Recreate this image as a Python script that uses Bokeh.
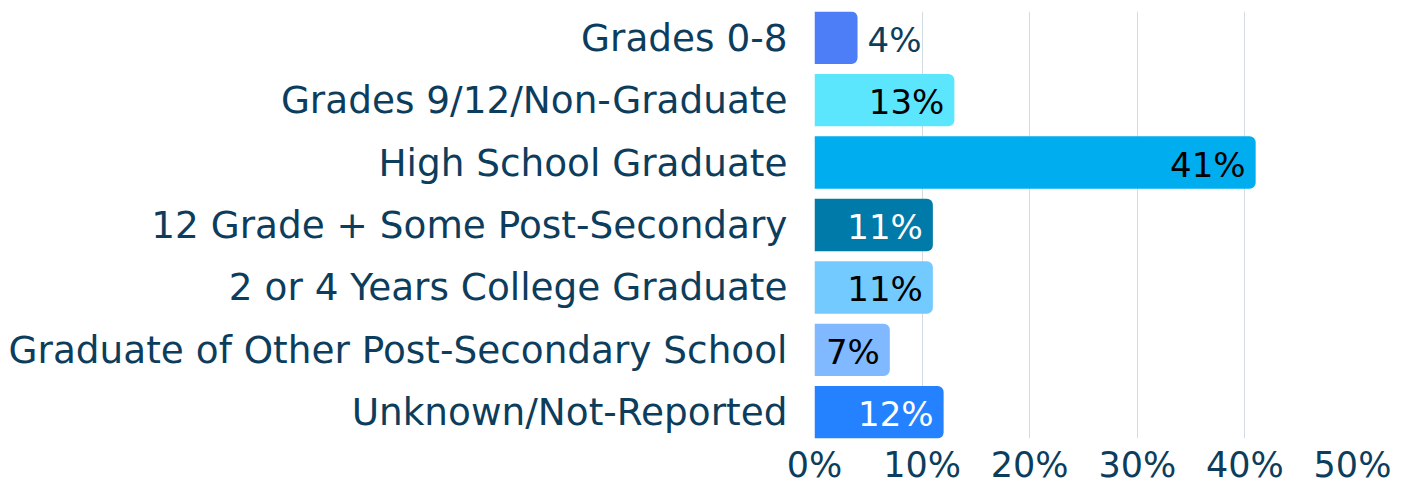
from bokeh.plotting import figure
from bokeh.models import Range1d, FixedTicker, ColumnDataSource
from bokeh.core.properties import value
from bokeh.embed import file_html
from bokeh.resources import INLINE

categories = [
    "Grades 0-8",
    "Grades 9/12/Non-Graduate",
    "High School Graduate",
    "12 Grade + Some Post-Secondary",
    "2 or 4 Years College Graduate",
    "Graduate of Other Post-Secondary School",
    "Unknown/Not-Reported",
]
values = [4, 13, 41, 11, 11, 7, 12]
bar_colors = ["#4d7ef7", "#5ce6fe", "#00aeef", "#007aa8", "#72caff", "#80b9ff", "#2481ff"]
label_colors = ["#0d3d5c", "#000000", "#000000", "#ffffff", "#000000", "#000000", "#ffffff"]
x_ticks = [0, 10, 20, 30, 40, 50]
x_tick_labels = ["0%", "10%", "20%", "30%", "40%", "50%"]

FONT = "DejaVu Sans"
NAVY = "#0d3d5c"

n = len(categories)
ypos = [n - 1 - i for i in range(n)]

src = ColumnDataSource(dict(
    y=ypos,
    v=values,
    color=bar_colors,
    lcolor=label_colors,
    text=[f"{v}%" for v in values],
    align=["left" if v < 5 else "right" for v in values],
    xoff=[10 if v < 5 else -10 for v in values],
))

p = figure(
    width=1400, height=487,
    x_range=Range1d(0, 50), y_range=Range1d(-0.42, n - 1 + 0.42),
    output_backend="svg", toolbar_location=None,
    min_border_left=814, min_border_right=48, min_border_top=11, min_border_bottom=0,
)
p.outline_line_color = None
p.background_fill_color = "white"
p.border_fill_color = "white"

p.hbar(y="y", right="v", left=0, height=0.84, fill_color="color", line_color=None,
       border_radius=(0, 6, 6, 0), source=src)

p.text(x="v", y="y", text="text", text_color="lcolor", text_align="align",
       text_baseline="middle", x_offset="xoff", y_offset=2,
       text_font=value(FONT), text_font_size="34px", source=src)

# axes
p.xaxis.ticker = FixedTicker(ticks=x_ticks)
p.xaxis.major_label_overrides = {t: l for t, l in zip(x_ticks, x_tick_labels)}
p.xaxis.axis_line_color = None
p.xaxis.major_tick_line_color = None
p.xaxis.minor_tick_line_color = None
p.xaxis.major_label_text_font = FONT
p.xaxis.major_label_text_font_size = "35px"
p.xaxis.major_label_text_color = NAVY
p.xaxis.major_label_standoff = 0

p.yaxis.ticker = FixedTicker(ticks=ypos)
p.yaxis.major_label_overrides = {y: c for y, c in zip(ypos, categories)}
p.yaxis.axis_line_color = None
p.yaxis.major_tick_line_color = None
p.yaxis.minor_tick_line_color = None
p.yaxis.major_label_text_font = FONT
p.yaxis.major_label_text_font_size = "37.4px"
p.yaxis.major_label_text_color = NAVY
p.yaxis.major_label_standoff = 21

p.xgrid.ticker = FixedTicker(ticks=x_ticks)
p.xgrid.grid_line_color = "#d3dbe5"
p.xgrid.grid_line_width = 1
p.ygrid.grid_line_color = None
p.grid.level = "underlay"

open("out.html", "w").write(file_html(p, INLINE))
